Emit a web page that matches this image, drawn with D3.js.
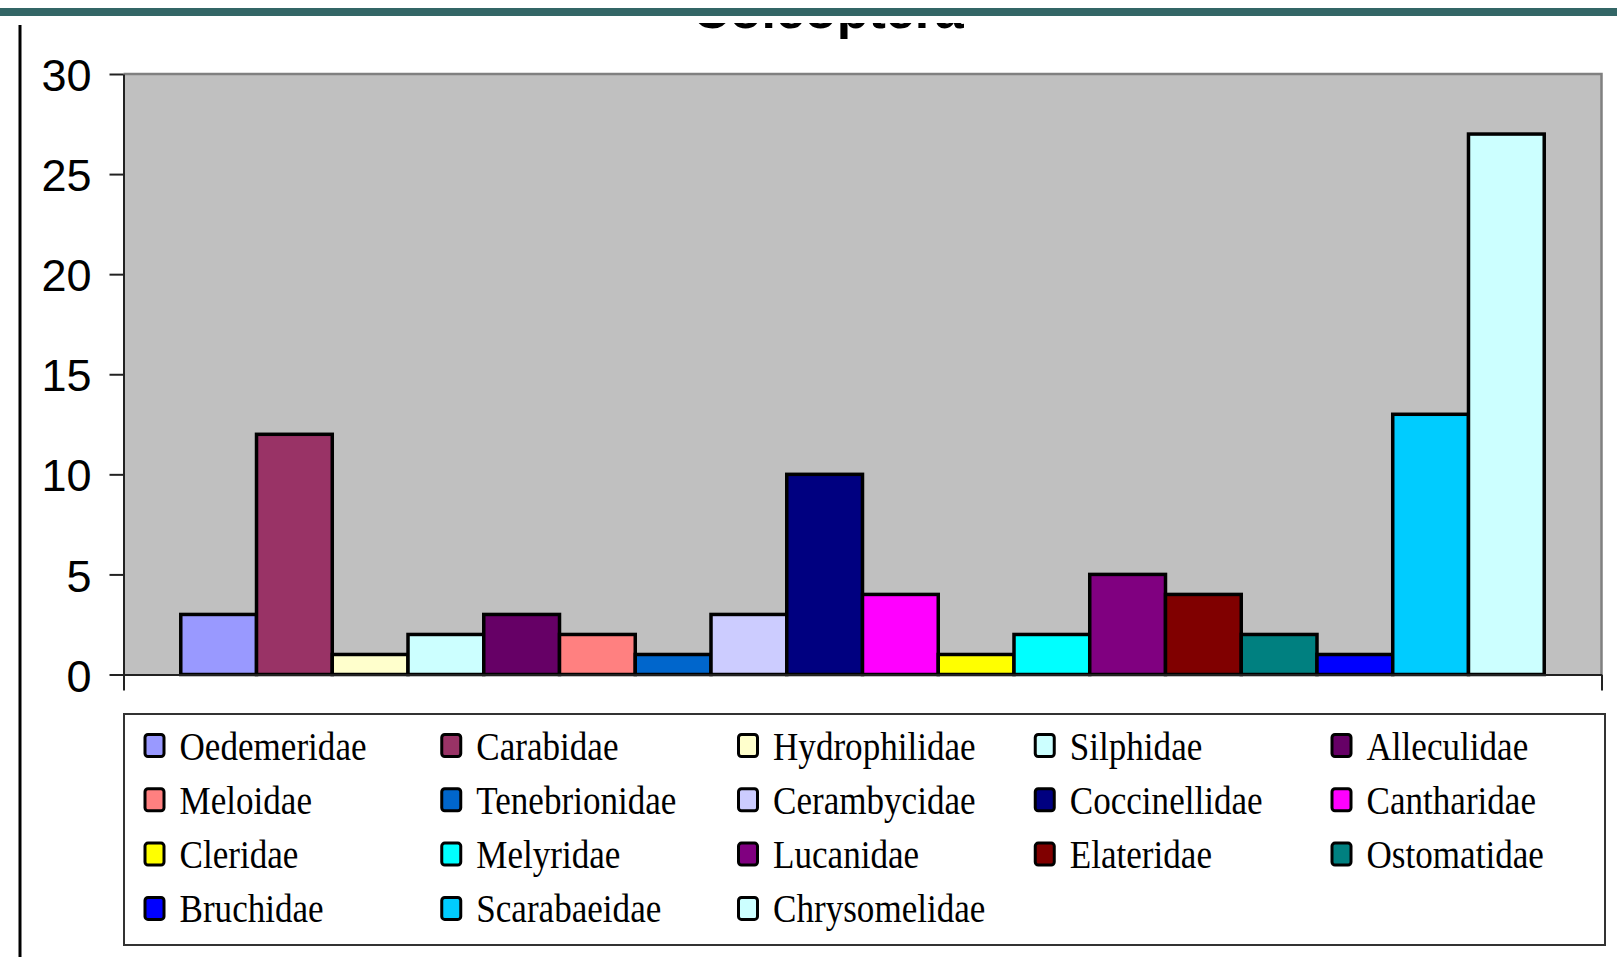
<!DOCTYPE html>
<head>
    <meta charset="utf-8">
    <script src="https://d3js.org/d3.v7.min.js"></script>
    <style>
        body { margin: 0; background: #fff; }
    </style>
</head>

<body>
    <svg width="1617" height="957"></svg>

    <script>
        // Coleoptera families, counts and the excel palette colours
        const families = ["Oedemeridae", "Carabidae", "Hydrophilidae", "Silphidae", "Alleculidae",
            "Meloidae", "Tenebrionidae", "Cerambycidae", "Coccinellidae", "Cantharidae",
            "Cleridae", "Melyridae", "Lucanidae", "Elateridae", "Ostomatidae",
            "Bruchidae", "Scarabaeidae", "Chrysomelidae"]
        const counts = [3, 12, 1, 2, 3, 2, 1, 3, 10, 4, 1, 2, 5, 4, 2, 1, 13, 27]
        const colors = ["#9999FF", "#993366", "#FFFFCC", "#CCFFFF", "#660066",
            "#FF8080", "#0066CC", "#CCCCFF", "#000080", "#FF00FF",
            "#FFFF00", "#00FFFF", "#800080", "#800000", "#008080",
            "#0000FF", "#00CCFF", "#CCFFFF"]
        const groups = ["Coleoptera"]
        const yTicks = [0, 5, 10, 15, 20, 25, 30]

        const svg = d3.select("svg")
        const plotL = 123.5, plotR = 1601.5, plotT = 74, plotB = 674.5

        // title, mostly hidden under the header (covered below)
        svg.append("text")
            .attr("x", 828).attr("y", 28)
            .attr("text-anchor", "middle")
            .style("font", "bold 52px 'Liberation Sans', Arial, sans-serif")
            .text(groups[0])
        svg.append("rect").attr("x", 0).attr("y", 0).attr("width", 1617).attr("height", 23).attr("fill", "white")

        // header band and side rule of the slide
        svg.append("rect").attr("x", 0).attr("y", 8).attr("width", 1617).attr("height", 8).attr("fill", "#336666")
        svg.append("line").attr("x1", 20).attr("x2", 20).attr("y1", 25).attr("y2", 957)
            .attr("stroke", "black").attr("stroke-width", 3)

        const x0 = d3.scaleBand().domain(groups).range([plotL, plotR]).paddingInner(0).paddingOuter(0.042)
        const x1 = d3.scaleBand().domain(families).range([0, x0.bandwidth()]).padding(0)
        const y = d3.scaleLinear().domain([0, 30]).range([plotB, plotT])

        // plot area
        svg.append("rect")
            .attr("x", plotL).attr("y", plotT)
            .attr("width", plotR - plotL).attr("height", plotB - plotT)
            .attr("fill", "#C0C0C0")
        svg.append("path")
            .attr("d", `M${plotL},${plotT}H${plotR}V${plotB}`)
            .attr("fill", "none").attr("stroke", "#808080").attr("stroke-width", 2.5)

        // bars
        svg.append("g")
            .attr("transform", `translate(${x0(groups[0])},0)`)
            .selectAll("rect")
            .data(families)
            .enter()
            .append("rect")
            .attr("x", d => x1(d))
            .attr("y", (d, i) => y(counts[i]))
            .attr("width", x1.bandwidth())
            .attr("height", (d, i) => plotB - y(counts[i]))
            .attr("fill", (d, i) => colors[i])
            .attr("stroke", "black")
            .attr("stroke-width", 3.5)

        // axes
        const yAxis = svg.append("g")
            .attr("transform", `translate(${plotL},0)`)
            .call(d3.axisLeft(y).tickValues(yTicks).tickSize(14).tickPadding(18).tickSizeOuter(0))
        yAxis.select(".domain").attr("stroke", "#222").attr("stroke-width", 2)
        yAxis.selectAll(".tick line").attr("stroke", "#222").attr("stroke-width", 2)
        yAxis.selectAll("text")
            .attr("fill", "black")
            .attr("dy", "0.37em")
            .style("font", "45px 'Liberation Sans', Arial, sans-serif")

        const xb = d3.scaleLinear().domain([0, 1]).range([plotL, plotR])
        const xAxis = svg.append("g")
            .attr("transform", `translate(0,${plotB})`)
            .call(d3.axisBottom(xb).tickValues([0, 1]).tickSize(16).tickSizeOuter(0).tickFormat(""))
        xAxis.select(".domain").attr("stroke", "#222").attr("stroke-width", 2)
        xAxis.selectAll(".tick line").attr("stroke", "#222").attr("stroke-width", 2)

        // legend
        svg.append("rect")
            .attr("x", 124).attr("y", 714).attr("width", 1481).attr("height", 231)
            .attr("fill", "white").attr("stroke", "#333").attr("stroke-width", 2)

        const nCols = 5
        const legend = svg.append("g")
            .selectAll("g")
            .data(families)
            .enter()
            .append("g")
            .attr("transform", (d, i) => `translate(${143.5 + (i % nCols) * 296.75},${745.5 + Math.floor(i / nCols) * 54.3})`)

        legend.append("rect")
            .attr("x", 1.5).attr("y", -11)
            .attr("width", 19).attr("height", 22)
            .attr("rx", 3)
            .attr("fill", (d, i) => colors[i])
            .attr("stroke", "black").attr("stroke-width", 3)

        legend.append("text")
            .attr("transform", "translate(36,14) scale(0.9,1.05)")
            .style("font", "39px 'Liberation Serif', 'Times New Roman', serif")
            .attr("fill", "black")
            .text(d => d)
    </script>
</body>
